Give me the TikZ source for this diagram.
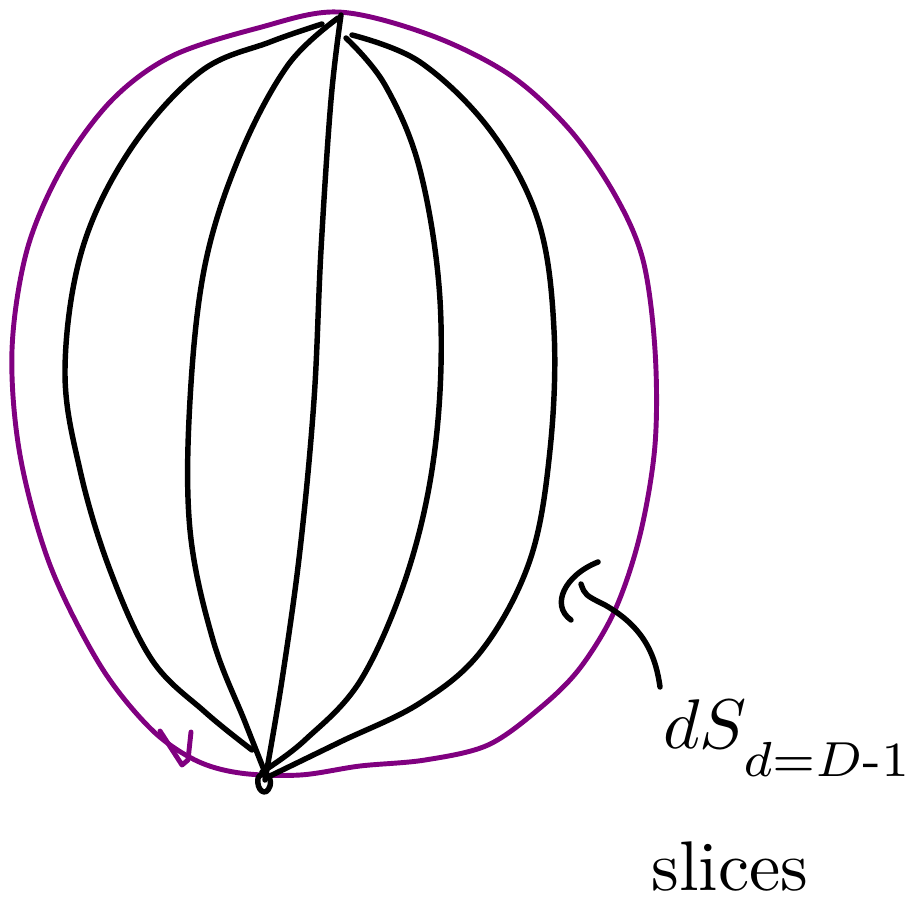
\documentclass[tikz,border=0pt]{standalone}
\usepackage{amsmath,amssymb}
\usepackage{tikz}
\usetikzlibrary{arrows.meta,positioning,calc}
\definecolor{sketchpurple}{RGB}{128,0,128}
\tikzset{
  hull/.style={draw=sketchpurple, line width=2.8pt, line cap=round, line join=round},
  slice/.style={black, line width=3.1pt, line cap=round, line join=round},
  pointer/.style={black, line width=3.1pt, line cap=round},
  lbl/.style={scale=4, inner sep=0pt},
}

\begin{document}
\begin{tikzpicture}[x=0.2mm, y=-0.2mm]
  \useasboundingbox (0,0) rectangle (921,916);
  % outer purple boundary
  \draw[hull] plot[smooth cycle, tension=0.55] coordinates {
    (338,12) (430,35) (510,75) (570,130) (615,195) (643,260) (655,350)
    (655,445) (640,535) (615,610) (580,668) (540,708) (488,745) (425,760)
    (360,766) (300,775) (240,773) (195,760) (150,728) (100,665) (50,565)
    (20,455) (12,350) (27,250) (62,168) (112,100) (172,56) (258,28)};
  \draw[hull] (160,731) -- (182,765) -- (188,760) -- (191,732);
  % meridian slices
  \draw[slice] plot[smooth, tension=0.6] coordinates {
    (322,24) (270,42) (200,72) (130,150) (82,250) (65,370) (80,470)
    (110,570) (152,660) (205,712) (252,750)};
  \draw[slice] plot[smooth, tension=0.6] coordinates {
    (338,18) (288,65) (240,155) (205,265) (190,400) (190,530) (213,640)
    (245,722) (266,775)};
  \draw[slice] plot[smooth, tension=0.6] coordinates {
    (341,15) (331,100) (321,250) (314,400) (300,550) (282,680) (265,780)};
  \draw[slice] plot[smooth, tension=0.6] coordinates {
    (346,38) (385,85) (420,170) (440,300) (436,440) (410,565) (362,678)
    (305,740) (262,772)};
  \draw[slice] plot[smooth, tension=0.6] coordinates {
    (352,35) (420,62) (490,130) (538,220) (554,330) (550,450) (530,560)
    (482,650) (420,703) (340,742) (270,776)};
  \draw[slice] (258,778) .. controls (256,790) and (266,798) .. (270,786)
    .. controls (273,776) and (262,770) .. (258,778);
  % label
  \node[lbl, anchor=base west] (dslbl) at (662,748)
    {$dS_{\raisebox{-0.6ex}{$\scriptstyle d{=}D\text{-}1$}}$};
  \node[lbl, anchor=base west] (slicelbl) at (650,890) {slices};
  \coordinate (tip) at (581,584);
  \draw[pointer] (598,562) .. controls (565,575) and (550,605) .. (571,620);
  \draw[pointer] (660,687) .. controls (655,650) and (640,625) .. (605,605)
    .. controls (585,595) .. (tip);
\end{tikzpicture}
\end{document}
